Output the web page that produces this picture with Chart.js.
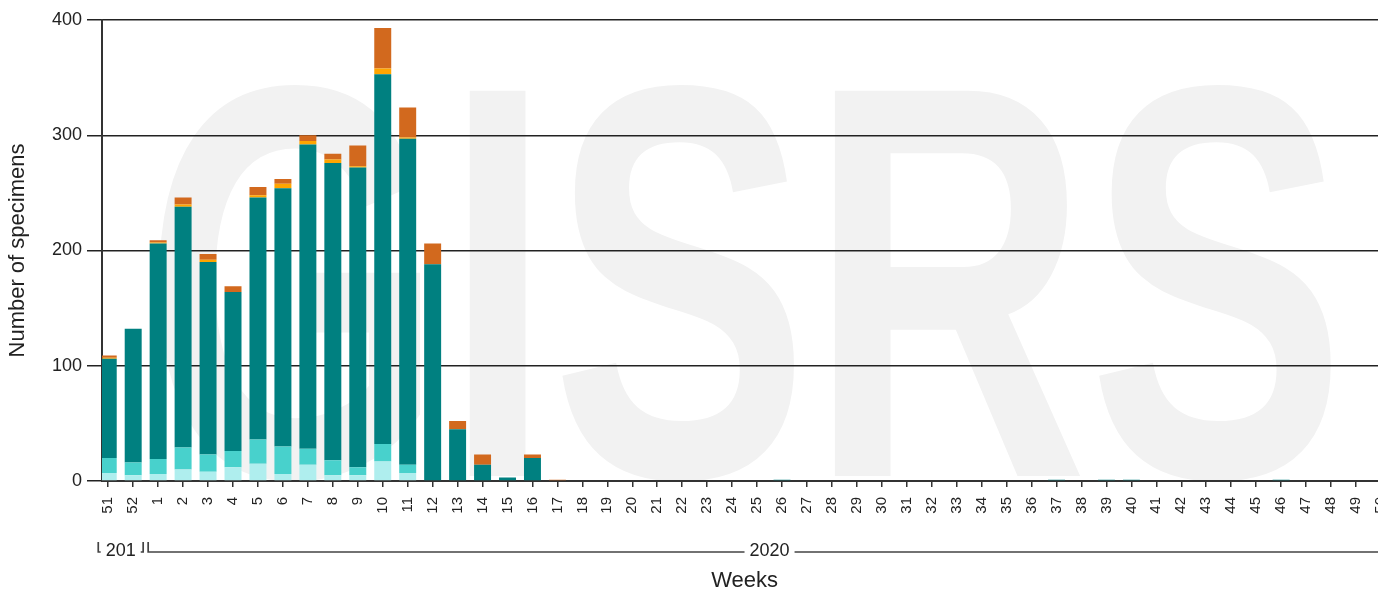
<!DOCTYPE html>
<html>
<head>
<meta charset="utf-8">
<script src="https://cdn.jsdelivr.net/npm/chart.js@4.4.1/dist/chart.umd.min.js"></script>
<style>
  html, body { margin: 0; padding: 0; background: #fff; overflow: hidden; }
  #wrap { width: 1409px; height: 593px; }
  canvas { display: block; }
</style>
</head>
<body>
<div id="wrap"><canvas id="grafico" width="1409" height="593"></canvas></div>
<script>
// Semanas epidemiologicas (dic 2019 -> 2020)
const semanas = ['51','52','1','2','3','4','5','6','7','8','9','10','11',
  '12','13','14','15','16','17','18','19','20','21','22','23','24','25',
  '26','27','28','29','30','31','32','33','34','35','36','37','38','39',
  '40','41','42','43','44','45','46','47','48','49','50'];

// Grupos de anio bajo el eje
const anios = ['2019', '2020'];
const anioInicio = [0, 2];   // indice de la primera semana de cada anio

const ticksY = [0, 100, 200, 300, 400];

// Series apiladas (de abajo hacia arriba)
const serieCeleste = [
  7,5,6,10,8,12,15,6,14,5,5,17,7,
  0,0,0,0,0,0,0,0,0,0,0,0,0,
  0,0,0,0,0,0,0,0,0,0,0,0,0,
  0,0,0,0,0,0,0,0,0,0,0,0,0];
const serieTurquesa = [
  13,11,13,19,15,14,21,24,14,13,7,15,7,
  0,0,0,0,0,0,0,0,0,0,0,0,0,
  0,0,0,0,0,0,0,0,0,0,0,0,0,
  0,0,0,0,0,0,0,0,0,0,0,0,0];
const serieTeal = [
  86,116,187,209,167,138,210,224,264,258,260,321,283,
  188,45,14,3,20,0,0,0,0,0,0,0,0,
  0,1,0,0,0,0,0,0,0,0,0,0,1,
  0,1,1,0,0,0,0,0,1,0,0,0,0];
const serieNaranja = [
  1,0,1,2,2,0,2,4,3,3,1,5,1,
  0,0,0,0,0,0,0,0,0,0,0,0,0,
  0,0,0,0,0,0,0,0,0,0,0,0,0,
  0,0,0,0,0,0,0,0,0,0,0,0,0];
const serieChocolate = [
  2,0,2,6,5,5,7,4,5,5,18,35,26,
  18,7,9,0,3,1,0,0,0,0,0,0,0,
  0,0,0,0,0,0,0,0,0,0,0,0,0,
  0,0,0,0,0,0,0,0,0,0,0,0,0];

const FUENTE = '"Liberation Sans", Arial, sans-serif';

// Marca de agua de fondo
const marcaAgua = {
  id: 'marcaAgua',
  beforeDraw(chart) {
    const { ctx, chartArea } = chart;
    ctx.save();
    ctx.fillStyle = '#f2f2f2';
    ctx.font = 'bold 560px ' + FUENTE;
    ctx.textAlign = 'center';
    ctx.textBaseline = 'alphabetic';
    ctx.translate((chartArea.left + chartArea.right) / 2, chartArea.bottom - 5);
    ctx.scale(0.69, 1);
    ctx.fillText('GISRS', 0, 0);
    ctx.restore();
  }
};

// Fila de anios con corchetes
const filaAnios = {
  id: 'filaAnios',
  afterDraw(chart) {
    const { ctx } = chart;
    const x = chart.scales.x;
    const yLinea = 552;
    ctx.save();
    ctx.strokeStyle = '#444';
    ctx.lineWidth = 1.7;
    ctx.font = '18px ' + FUENTE;
    ctx.textAlign = 'center';
    ctx.textBaseline = 'middle';
    anios.forEach((anio, i) => {
      const fin = i + 1 < anioInicio.length ? anioInicio[i + 1] - 1 : semanas.length - 1;
      const izq = x.getPixelForValue(anioInicio[i] - 0.5) + 2.5;
      const der = x.getPixelForValue(fin + 0.5) - 2.5;
      ctx.beginPath();
      ctx.moveTo(izq, yLinea - 10);
      ctx.lineTo(izq, yLinea);
      ctx.lineTo(der, yLinea);
      ctx.lineTo(der, yLinea - 10);
      ctx.stroke();

      // recortar texto si no cabe
      let texto = anio;
      const maxAncho = der - izq - 8;
      while (texto.length > 1 && ctx.measureText(texto).width > maxAncho) {
        texto = texto.slice(0, -1);
      }
      const ancho = ctx.measureText(texto).width;
      const centro = (izq + der) / 2;
      ctx.fillStyle = '#fff';
      ctx.fillRect(centro - ancho / 2 - 5, yLinea - 10, ancho + 10, 20);
      ctx.fillStyle = '#222';
      ctx.fillText(texto, centro, yLinea - 1);
    });
    ctx.restore();
  }
};

function puntos(serie) {
  return serie.map((v, i) => ({ x: i, y: v }));
}

const series = [
  { label: 'A (H1N1)pdm09', data: serieCeleste, color: '#AFEEEE' },
  { label: 'A (no subtipificado)', data: serieTurquesa, color: '#48D1CC' },
  { label: 'A (H3)', data: serieTeal, color: '#008080' },
  { label: 'B (Victoria)', data: serieNaranja, color: '#FFA500' },
  { label: 'B (linaje no determinado)', data: serieChocolate, color: '#D2691E' }
];

new Chart(document.getElementById('grafico'), {
  type: 'bar',
  data: {
    datasets: series.map(s => ({
      label: s.label,
      data: puntos(s.data),
      backgroundColor: s.color,
      borderWidth: 0,
      barPercentage: 0.68,
      categoryPercentage: 1
    }))
  },
  plugins: [marcaAgua, filaAnios],
  options: {
    responsive: false,
    animation: false,
    layout: { padding: { top: 20, right: 14, left: 0, bottom: 0 } },
    plugins: {
      legend: { display: false },
      tooltip: { enabled: false }
    },
    scales: {
      x: {
        type: 'linear',
        stacked: true,
        offset: false,
        min: -0.25,
        max: semanas.length - 0.75,
        afterFit: (scale) => { scale.height = 112; },
        grid: {
          offset: false,
          drawOnChartArea: false,
          drawTicks: true,
          tickLength: 6,
          color: '#333',
          lineWidth: 1.5
        },
        border: { display: true, color: '#333', width: 2 },
        ticks: {
          stepSize: 1,
          includeBounds: false,
          autoSkip: false,
          maxTicksLimit: 100,
          minRotation: 90,
          maxRotation: 90,
          padding: 10,
          color: '#222',
          font: { size: 15, family: FUENTE },
          callback: (v) => semanas[v]
        },
        title: {
          display: true,
          text: 'Weeks',
          color: '#222',
          padding: { top: 0, bottom: 0 },
          font: { size: 22, family: FUENTE, lineHeight: 1.1 }
        }
      },
      y: {
        stacked: true,
        min: ticksY[0],
        max: ticksY[ticksY.length - 1],
        afterFit: (scale) => { scale.width = 102; },
        afterBuildTicks: (scale) => { scale.ticks = ticksY.map(v => ({ value: v })); },
        grid: {
          color: '#222',
          lineWidth: 1.5,
          drawTicks: true,
          tickLength: 15
        },
        border: { display: true, color: '#333', width: 2 },
        ticks: {
          padding: 5,
          color: '#222',
          font: { size: 18, family: FUENTE }
        },
        title: {
          display: true,
          text: 'Number of specimens',
          color: '#222',
          padding: { top: 6, bottom: 0 },
          font: { size: 22, family: FUENTE, lineHeight: 1.1 }
        }
      }
    }
  }
});
</script>
</body>
</html>
